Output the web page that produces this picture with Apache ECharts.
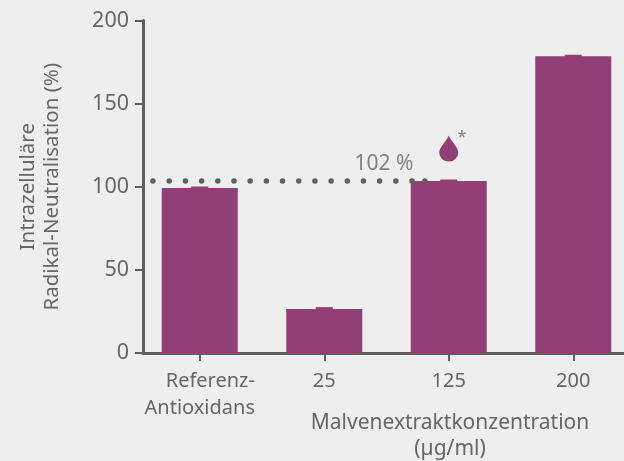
<!DOCTYPE html>
<html><head><meta charset="utf-8">
<style>html,body{margin:0;padding:0;background:#eeeeee}#c{width:624px;height:461px}</style>
<script src="https://cdn.jsdelivr.net/npm/echarts@6/dist/echarts.min.js"></script>
</head><body><div id="c"></div>
<script>
const categories = ['Referenz-\nAntioxidans', '25', '125', '200'];
const barValues = [99.3, 26.5, 103.4, 178.5];
const errorTops = [100.2, 27.6, 104.4, 179.4];
const dotX = [-0.376, -0.245, -0.115, 0.015, 0.145, 0.275, 0.405, 0.535, 0.665, 0.795, 0.925, 1.055, 1.185, 1.315, 1.445, 1.575, 1.705, 1.808];
const dotLevel = 103.4;
const yTitle = 'Intrazelluläre\nRadikal-Neutralisation (%)';
const xTitle = 'Malvenextraktkonzentration\n(µg/ml)';
const pctLabel = '102 %';
const FONT = 'Noto Sans';
const GREY = '#5f5f5f', TEXT = '#666666', PURPLE = '#923e77';
const drop = 'path://M10 0C12 6 20 13 20 19A10 10 0 0 1 0 19C0 13 8 6 10 0Z';
const chart = echarts.init(document.getElementById('c'), null, {renderer:'canvas'});
chart.setOption({
  backgroundColor:'#eeeeee',
  animation:false,
  textStyle:{fontFamily:FONT,color:TEXT},
  title:{text:xTitle,left:450,top:410,textAlign:'center',padding:0,
    textStyle:{fontFamily:FONT,fontWeight:400,fontSize:21,color:TEXT,lineHeight:26}},
  grid:[
    {left:137.5,top:20.5,width:498,height:332.5,outerBoundsMode:'none'},
    {left:143,top:20.5,right:0,height:332.5,outerBoundsMode:'none'}
  ],
  xAxis:[
    {type:'category',gridIndex:0,data:categories,
      axisLine:{show:false},axisTick:{show:true,alignWithLabel:true,length:8,lineStyle:{color:GREY,width:2}},
      axisLabel:{show:true,interval:0,margin:15,color:TEXT,fontFamily:FONT,fontSize:20,lineHeight:27,
        formatter:function(v){return v.split('\n').map(function(s){return '{a|'+s+'}';}).join('\n');},
        rich:{a:{align:'right',fontFamily:FONT,fontSize:20,color:TEXT,lineHeight:27}}}},
    {type:'value',gridIndex:1,min:0,max:1,position:'bottom',
      axisLine:{show:true,onZero:false,lineStyle:{color:GREY,width:3}},axisTick:{show:false},axisLabel:{show:false},splitLine:{show:false}},
    {type:'value',gridIndex:0,min:-0.5,max:3.5,show:false}
  ],
  yAxis:[
    {type:'value',gridIndex:0,min:0,max:200,show:false},
    {type:'value',gridIndex:1,min:0,max:200,interval:50,position:'left',
      name:yTitle,nameLocation:'middle',nameRotate:90,nameGap:79,
      nameTextStyle:{color:TEXT,fontFamily:FONT,fontSize:20.5,lineHeight:24},
      axisLine:{show:true,lineStyle:{color:GREY,width:3}},
      axisTick:{show:true,length:8,lineStyle:{color:GREY,width:2}},
      axisLabel:{color:TEXT,fontFamily:FONT,fontSize:21.5,margin:14},splitLine:{show:false}}
  ],
  series:[
    {type:'custom',xAxisIndex:0,yAxisIndex:0,z:1,data:errorTops.map(function(v,i){return [i,v];}),
      renderItem:function(p,api){
        const t=api.coord([api.value(0),api.value(1)]);
        const b=api.coord([api.value(0),0]);
        return {type:'rect',shape:{x:t[0]-8.5,y:t[1],width:17,height:b[1]-t[1]},style:{fill:PURPLE}};
      }},
    {type:'bar',xAxisIndex:0,yAxisIndex:0,data:barValues,barWidth:76,z:2,itemStyle:{color:PURPLE}},
    {type:'scatter',xAxisIndex:2,yAxisIndex:0,z:3,symbol:'circle',symbolSize:5.5,
      data:dotX.map(function(x){return [x,dotLevel];}),itemStyle:{color:GREY,opacity:1}},
    {type:'scatter',xAxisIndex:0,yAxisIndex:0,z:4,symbol:drop,symbolSize:[19,26],
      data:[[2,123]],itemStyle:{color:PURPLE,opacity:1}},
    {type:'scatter',xAxisIndex:2,yAxisIndex:0,z:4,symbolSize:0,silent:true,
      data:[{value:[1.48,113.5],label:{show:true,formatter:pctLabel,fontSize:21,color:TEXT,fontFamily:FONT,position:'inside'}},
            {value:[2.105,130],label:{show:true,formatter:'*',fontSize:17,color:TEXT,fontFamily:FONT,position:'inside'}}]}
  ]
});
</script></body></html>
